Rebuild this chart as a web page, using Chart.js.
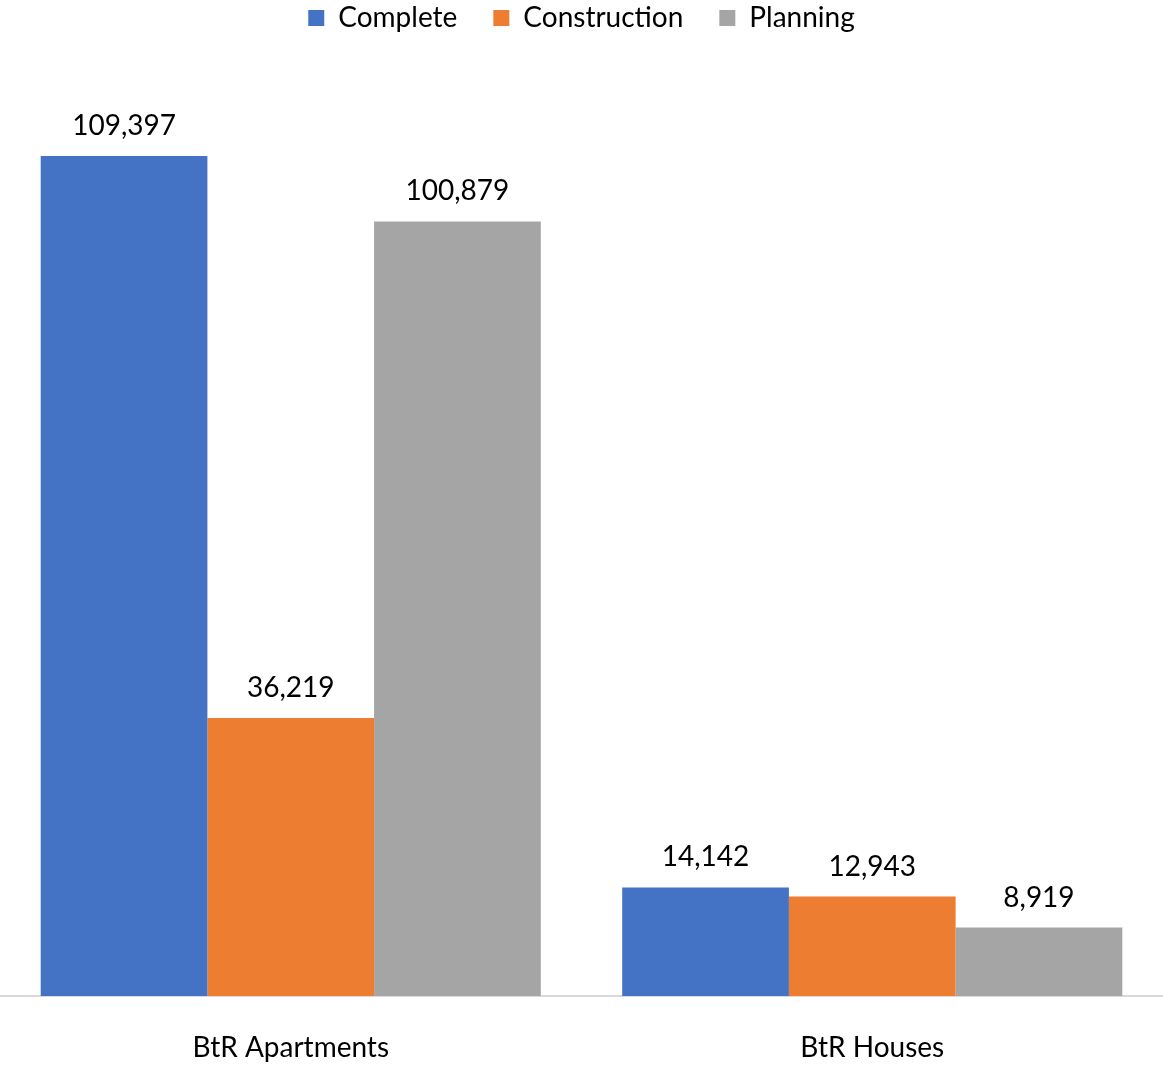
<!DOCTYPE html>
<html>
<head>
<meta charset="utf-8">
<script src="https://cdn.jsdelivr.net/npm/chart.js@4"></script>
<style>
  html, body { margin: 0; padding: 0; background: #fff; }
  #wrap { width: 1163px; height: 1067px; }
</style>
</head>
<body>
<div id="wrap"><canvas id="myChart" width="1163" height="1067"></canvas></div>
<script>
// BtR pipeline by stage
const categories = ['BtR Apartments', 'BtR Houses']
const complete = [109397, 14142]
const construction = [36219, 12943]
const planning = [100879, 8919]

const FONT = 'Lato, "Open Sans", sans-serif'

// value labels above each bar
const barLabels = {
    id: 'barLabels',
    afterDatasetsDraw(chart) {
        let ctx = chart.ctx
        ctx.save()
        ctx.font = '28px ' + FONT
        ctx.fillStyle = '#000'
        ctx.textAlign = 'center'
        ctx.textBaseline = 'middle'
        chart.data.datasets.forEach((ds, i) => {
            chart.getDatasetMeta(i).data.forEach((bar, j) => {
                ctx.fillText(ds.data[j].toLocaleString('en-US'), bar.x, bar.y - 30)
            })
        })
        ctx.restore()
    }
}

let ctx = document.querySelector('#myChart').getContext('2d')

let myChart = new Chart(ctx, {
    type: 'bar',
    data: {
        labels: categories,
        datasets: [
            { label: 'Complete', data: complete, backgroundColor: '#4472C4' },
            { label: 'Construction', data: construction, backgroundColor: '#ED7D31' },
            { label: 'Planning', data: planning, backgroundColor: '#A5A5A5' }
        ]
    },
    options: {
        responsive: false,
        animation: false,
        categoryPercentage: 0.86,
        barPercentage: 1.0,
        layout: {
            padding: { left: 0, right: 0, top: -32, bottom: 0 }
        },
        scales: {
            x: {
                grid: { display: false },
                border: { color: '#d9d9d9', width: 2 },
                ticks: {
                    color: '#000',
                    padding: 27,
                    font: { size: 28, family: FONT }
                },
                afterFit(scale) {
                    scale.height = 71
                }
            },
            y: {
                display: false,
                min: 0,
                max: 124250
            }
        },
        plugins: {
            legend: {
                position: 'top',
                labels: {
                    color: '#000',
                    boxWidth: 16,
                    boxHeight: 16,
                    padding: 36,
                    font: { size: 28, family: FONT }
                }
            },
            tooltip: { enabled: false }
        }
    },
    plugins: [barLabels]
})
</script>
</body>
</html>
